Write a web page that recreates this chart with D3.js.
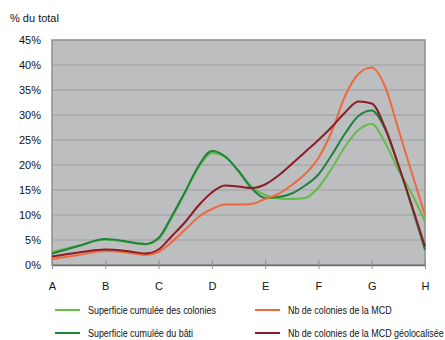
<!DOCTYPE html>
<html>
<head>
<meta charset="utf-8">
<script src="https://cdn.jsdelivr.net/npm/d3@7"></script>
<style>
  html, body { margin: 0; padding: 0; background: #fff; }
  svg { display: block; font-family: "Liberation Sans", Arial, sans-serif; }
</style>
</head>
<body>
<svg id="chart" width="445" height="340"></svg>
<script>
// Category labels along the horizontal axis
const categories = ["A", "B", "C", "D", "E", "F", "G", "H"];
// Sample positions, in category units (0 = A, 7 = H)
const positions = [0, 0.5, 1, 1.4, 1.75, 2, 2.25, 2.5, 2.75, 3, 3.25, 3.5, 3.75, 4,
  4.25, 4.5, 4.75, 5, 5.25, 5.5, 5.75, 6, 6.25, 6.5, 6.75, 7];

// Series values (% du total)
const superficieColonies = [2.6, 3.9, 5.1, 4.6, 4.1, 5.2, 9.5, 14.5, 19.5, 22.4, 21.6, 18.8, 15.6, 14.0,
  13.3, 13.2, 13.4, 15.5, 19.3, 23.7, 27.0, 28.2, 24.5, 19.0, 14.3, 8.7];
const superficieBati = [2.3, 3.8, 5.2, 4.7, 4.2, 5.4, 9.8, 14.7, 19.8, 22.8, 21.7, 18.8, 15.3, 13.4,
  13.6, 14.3, 15.9, 18.1, 22.0, 26.3, 29.8, 30.9, 27.2, 20.0, 11.7, 3.0];
const nbColoniesMCD = [1.2, 2.0, 2.8, 2.5, 2.0, 2.6, 4.6, 7.1, 9.6, 11.2, 12.1, 12.1, 12.2, 13.2,
  14.2, 16.0, 18.2, 21.4, 26.7, 33.8, 38.2, 39.5, 35.7, 27.2, 18.5, 10.0];
const nbColoniesGeo = [1.7, 2.5, 3.1, 2.8, 2.3, 3.1, 5.8, 8.6, 11.9, 14.5, 15.9, 15.7, 15.4, 16.1,
  17.9, 20.2, 22.6, 25.0, 27.6, 30.5, 32.7, 32.3, 27.5, 20.0, 12.0, 3.7];

// Y axis ticks
const yTicks = [0, 5, 10, 15, 20, 25, 30, 35, 40, 45];

const series = [
  { name: "Superficie cumulée des colonies", values: superficieColonies, color: "#66bb4a" },
  { name: "Superficie cumulée du bâti", values: superficieBati, color: "#1e843c" },
  { name: "Nb de colonies de la MCD", values: nbColoniesMCD, color: "#f0693c" },
  { name: "Nb de colonies de la MCD géolocalisée", values: nbColoniesGeo, color: "#8c1c28" }
];

const svg = d3.select("#chart");
const plot = { left: 52, right: 425, top: 40, bottom: 265 };

const x = d3.scaleLinear().domain([0, categories.length - 1]).range([plot.left, plot.right]);
const y = d3.scaleLinear().domain([0, 45]).range([plot.bottom, plot.top]);

// Axis title
svg.append("text")
  .attr("x", 10).attr("y", 22)
  .attr("font-size", 11).attr("fill", "#111")
  .text("% du total");

// Plot background
svg.append("rect")
  .attr("x", plot.left).attr("y", plot.top)
  .attr("width", plot.right - plot.left).attr("height", plot.bottom - plot.top)
  .attr("fill", "#bcbec0");

// Horizontal gridlines
svg.append("g")
  .selectAll("line")
  .data(yTicks.filter(d => d > 0 && d < 45))
  .join("line")
  .attr("x1", plot.left).attr("x2", plot.right)
  .attr("y1", d => y(d)).attr("y2", d => y(d))
  .attr("stroke", "#9c9ea0").attr("stroke-width", 1);

// Plot frame
svg.append("rect")
  .attr("x", plot.left).attr("y", plot.top)
  .attr("width", plot.right - plot.left).attr("height", plot.bottom - plot.top)
  .attr("fill", "none").attr("stroke", "#8e8e8e").attr("stroke-width", 1.5);

// Y axis labels
const yAxis = d3.axisLeft(y).tickValues(yTicks).tickFormat(d => d + "%").tickSize(0).tickPadding(11);
const gy = svg.append("g").attr("transform", `translate(${plot.left},0)`).call(yAxis);
gy.select(".domain").remove();
gy.selectAll("text").attr("font-size", 11).attr("fill", "#111")
  .attr("font-family", "Liberation Sans, Arial, sans-serif");

// X axis with ticks crossing the bottom edge
const xAxis = d3.axisBottom(x).tickValues(d3.range(categories.length))
  .tickFormat(i => categories[i]).tickSizeInner(-5).tickSizeOuter(0).tickPadding(17);
const gx = svg.append("g").attr("transform", `translate(0,${plot.bottom})`).call(xAxis);
gx.select(".domain").attr("stroke", "#6e6e6e").attr("stroke-width", 1.5);
gx.selectAll(".tick line").attr("stroke", "#8e8e8e").attr("y2", 4).attr("y1", -5);
gx.selectAll("text").attr("font-size", 11).attr("fill", "#111")
  .attr("font-family", "Liberation Sans, Arial, sans-serif");

// Series lines
const line = d3.line()
  .x((d, i) => x(positions[i]))
  .y(d => y(d))
  .curve(d3.curveMonotoneX);

svg.append("g")
  .selectAll("path")
  .data(series)
  .join("path")
  .attr("d", s => line(s.values))
  .attr("fill", "none")
  .attr("stroke", s => s.color)
  .attr("stroke-width", 2)
  .attr("stroke-linejoin", "round");

// Legend (two columns, narrow lettering)
const legendPos = [
  { lx: 55, ly: 310 }, { lx: 55, ly: 333 },
  { lx: 255, ly: 310 }, { lx: 255, ly: 333 }
];
const lg = svg.append("g").selectAll("g").data(series).join("g")
  .attr("transform", (s, i) => `translate(${legendPos[i].lx},${legendPos[i].ly})`);
lg.append("line").attr("x1", 0).attr("x2", 25).attr("y1", 0).attr("y2", 0)
  .attr("stroke", s => s.color).attr("stroke-width", 2);
lg.append("text")
  .attr("transform", "translate(33,4) scale(0.85,1)")
  .attr("font-size", 10.5).attr("fill", "#111")
  .text(s => s.name);
</script>
</body>
</html>
